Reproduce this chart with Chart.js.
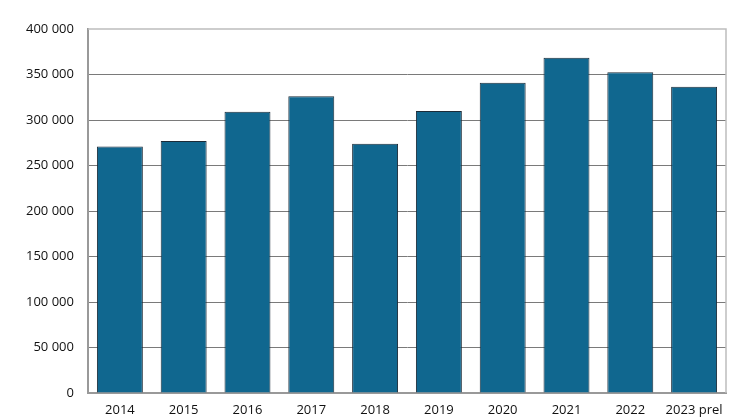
<!DOCTYPE html>
<html>
<head>
<meta charset="utf-8">
<script src="https://cdn.jsdelivr.net/npm/chart.js@4/dist/chart.umd.min.js"></script>
<style>
  html, body { margin: 0; padding: 0; background: #fff; }
  #wrap { width: 746px; height: 419px; }
</style>
</head>
<body>
<div id="wrap"><canvas id="chart"></canvas></div>
<script>
// Data
const years = ['2014', '2015', '2016', '2017', '2018', '2019', '2020', '2021', '2022', '2023 prel'];
const values = [271000, 277000, 309000, 326000, 274000, 310000, 341000, 368500, 352500, 336500];
const yMax = 400000;
const yStep = 50000;

// light frame on the top and right of the plot
const framePlugin = {
  id: 'frame',
  afterDraw(chart) {
    const { ctx, chartArea: a } = chart;
    ctx.save();
    ctx.strokeStyle = '#bdbdbd';
    ctx.lineWidth = 1.5;
    ctx.beginPath();
    ctx.moveTo(a.left, a.top);
    ctx.lineTo(a.right, a.top);
    ctx.lineTo(a.right, a.bottom);
    ctx.stroke();
    ctx.restore();
  }
};

const fmt = v => String(v).replace(/\B(?=(\d{3})+(?!\d))/g, ' ');

new Chart(document.getElementById('chart'), {
  type: 'bar',
  data: {
    labels: years,
    datasets: [{
      data: values,
      backgroundColor: '#10678f',
      borderColor: '#1b2b38',
      borderWidth: 1,
      barPercentage: 0.72,
      categoryPercentage: 1
    }]
  },
  options: {
    responsive: true,
    maintainAspectRatio: false,
    animation: false,
    layout: { padding: { top: 29, right: 20, left: 12, bottom: -9 } },
    plugins: {
      legend: { display: false },
      tooltip: { enabled: false }
    },
    scales: {
      x: {
        grid: { display: false, drawTicks: false },
        border: { display: true, color: '#999999', width: 2 },
        ticks: {
          color: '#111',
          font: { family: 'Open Sans', size: 13, lineHeight: 1 },
          padding: 11,
          maxRotation: 0
        }
      },
      y: {
        min: 0,
        max: yMax,
        grid: {
          drawTicks: false,
          color: ctx => ctx.tick && ctx.tick.value === yMax ? 'rgba(0,0,0,0)' : '#7a7a7a',
          lineWidth: 1
        },
        border: { display: true, color: '#999999', width: 2 },
        ticks: {
          stepSize: yStep,
          color: '#111',
          font: { family: 'Open Sans', size: 13 },
          padding: 14,
          callback: v => fmt(v)
        }
      }
    }
  },
  plugins: [framePlugin]
});
</script>
</body>
</html>
